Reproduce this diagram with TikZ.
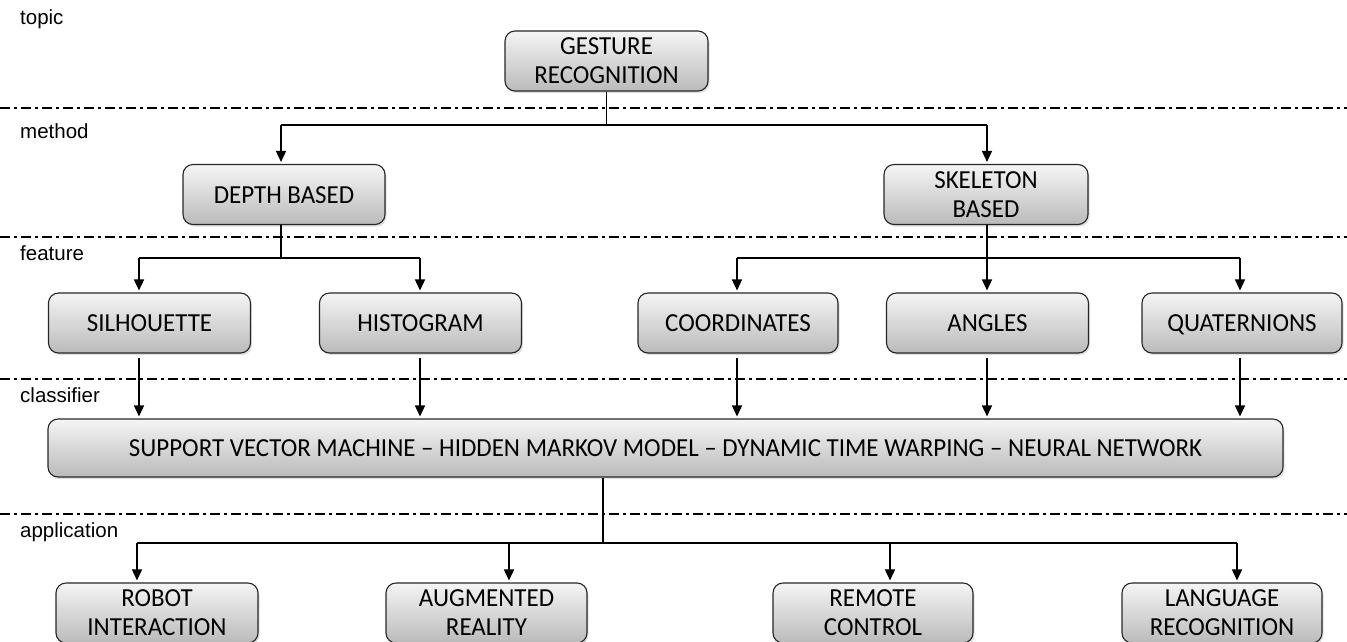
\documentclass[tikz,border=0pt]{standalone}
\usepackage{fontspec}
\setmainfont{Carlito}[FakeStretch=0.96]
\newfontfamily\labelfont{Liberation Sans}
\usetikzlibrary{arrows.meta,calc,shadows}
\begin{document}
\begin{tikzpicture}[x=1pt,y=-1pt,
  box/.style={draw=black!85,line width=1.1pt,rounded corners=10pt,
    top color=black!4,bottom color=black!27,align=center,
    drop shadow={shadow xshift=1.5pt,shadow yshift=-2pt,opacity=0.25},
    font=\fontsize{26}{29}\selectfont,inner sep=0pt},
  b1/.style={box,minimum width=202pt,minimum height=60pt},
  one/.style={text height=17pt,text depth=0pt},
  lay/.style={line width=1.4pt,dash pattern=on 10pt off 4pt on 3pt off 4pt},
  lbl/.style={anchor=west,font=\labelfont\fontsize{20.5}{24}\selectfont,inner sep=0pt},
  arr/.style={line width=1.5pt,-{Triangle[width=10pt,length=11pt]},shorten >=2pt},
  ln/.style={line width=1.5pt}]
\useasboundingbox (0,0) rectangle (1347,641);
% layer lines
\foreach \yy in {108,237,379,514}{\draw[lay] (0,\yy) -- (1347,\yy);}
\node[lbl] (ltopic) at (20,19) {topic};
\node[lbl] (lmethod) at (20,131) {method};
\node[lbl] (lfeature) at (20,253) {feature};
\node[lbl] (lclass) at (20,395) {classifier};
\node[lbl] (lapp) at (20,532) {application};
% nodes
\node[b1,minimum width=203pt] (gest) at (606.5,61) {GESTURE\\RECOGNITION};
\node[b1,one] (depth) at (284,194.5) {DEPTH BASED};
\node[b1,minimum width=204pt] (skel) at (986,194.5) {SKELETON\\BASED};
\node[b1,one] (sil) at (149.5,323) {SILHOUETTE};
\node[b1,one] (hist) at (420.5,323) {HISTOGRAM};
\node[b1,one,minimum width=200pt] (coord) at (738,323) {COORDINATES};
\node[b1,one] (ang) at (987.5,323) {ANGLES};
\node[b1,one,minimum width=200pt] (quat) at (1242,323) {QUATERNIONS};
\node[box,one,minimum width=1235pt,minimum height=58pt] (cls) at (665.5,448) {SUPPORT VECTOR MACHINE -- HIDDEN MARKOV MODEL -- DYNAMIC TIME WARPING -- NEURAL NETWORK};
\node[b1] (robot) at (157,613) {ROBOT\\INTERACTION};
\node[b1,minimum width=201pt] (aug) at (486.5,613) {AUGMENTED\\REALITY};
\node[b1,minimum width=200pt] (rem) at (873,613) {REMOTE\\CONTROL};
\node[b1,minimum width=200pt] (lang) at (1222,613) {LANGUAGE\\RECOGNITION};
% branch coordinates
\coordinate (m1) at (281,125);
\coordinate (m2) at (987,125);
\coordinate (f1) at (139,258);
\coordinate (f2) at (420,258);
\coordinate (f3) at (737,258);
\coordinate (f5) at (1240,258);
\coordinate (a1) at (137,543);
\coordinate (a2) at (509,543);
\coordinate (a3) at (890,543);
\coordinate (a4) at (1237,543);
% topic -> method
\draw[ln] (gest.south) -- (gest.south |- m1);
\draw[ln] (m1) -- (m2);
\draw[arr] (m1) -- (depth.north -| m1);
\draw[arr] (m2) -- (skel.north -| m2);
% method -> feature
\draw[ln] (depth.south -| m1) -- (f1 -| m1);
\draw[ln] (f1) -- (f2);
\draw[arr] (f1) -- (sil.north -| f1);
\draw[arr] (f2) -- (hist.north -| f2);
\draw[ln] (skel.south -| m2) -- (f3 -| m2);
\draw[ln] (f3) -- (f5);
\draw[arr] (f3) -- (coord.north -| f3);
\draw[arr] (f3 -| m2) -- (ang.north -| m2);
\draw[arr] (f5) -- (quat.north -| f5);
% feature -> classifier
\draw[arr] ($(sil.south -| f1)+(0,4)$) -- (cls.north -| f1);
\draw[arr] ($(hist.south -| f2)+(0,4)$) -- (cls.north -| f2);
\draw[arr] ($(coord.south -| f3)+(0,4)$) -- (cls.north -| f3);
\draw[arr] ($(ang.south -| m2)+(0,4)$) -- (cls.north -| m2);
\draw[arr] ($(quat.south -| f5)+(0,4)$) -- (cls.north -| f5);
% classifier -> application
\coordinate (cb) at (603,543);
\draw[ln] (cls.south -| cb) -- (cb);
\draw[ln] (a1) -- (a4);
\draw[arr] (a1) -- (robot.north -| a1);
\draw[arr] (a2) -- (aug.north -| a2);
\draw[arr] (a3) -- (rem.north -| a3);
\draw[arr] (a4) -- (lang.north -| a4);
\end{tikzpicture}
\end{document}
